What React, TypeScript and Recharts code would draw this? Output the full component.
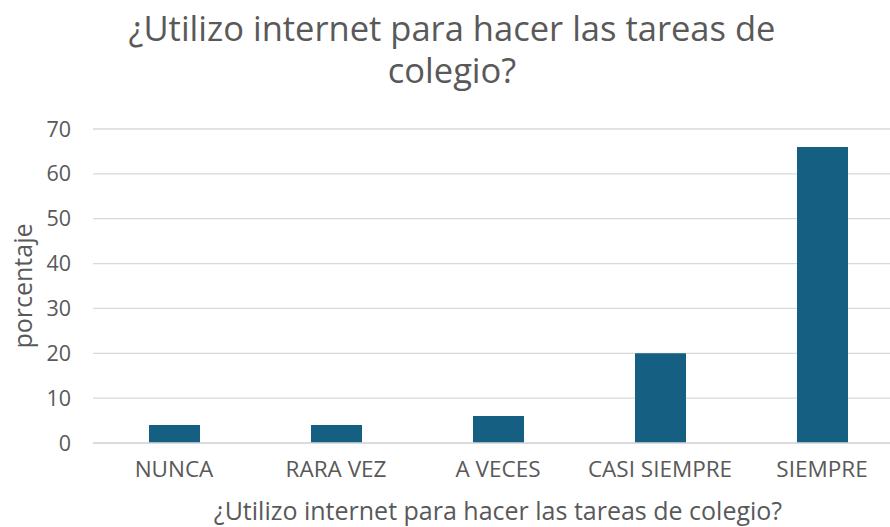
import { BarChart, Bar, XAxis, YAxis, CartesianGrid } from "recharts"

const categories = ["NUNCA", "RARA VEZ", "A VECES", "CASI SIEMPRE", "SIEMPRE"]
const porcentaje = [4, 4, 6, 20, 66]
const yTicks = [0, 10, 20, 30, 40, 50, 60, 70]

const titleLines = ["¿Utilizo internet para hacer las tareas de", "colegio?"]
const xTitle = "¿Utilizo internet para hacer las tareas de colegio?"
const yTitle = "porcentaje"

const FONT = "'Open Sans', 'Liberation Sans', Arial, sans-serif"
const TEXT = "#595959"
const BAR = "#156082"
const GRID = "#D9D9D9"

const data = categories.map((name, i) => ({ name, value: porcentaje[i] }))

export default function App() {
  return (
    <div
      style={{
        position: "fixed",
        top: 0,
        left: 0,
        width: 890,
        height: 527,
        overflow: "hidden",
        background: "#fff",
        fontFamily: FONT,
      }}
    >
      {titleLines.map((l, i) => (
        <div
          key={l}
          style={{
            position: "absolute",
            left: 0,
            width: 904,
            top: 10 + i * 42,
            textAlign: "center",
            color: TEXT,
            fontSize: 34.5,
            lineHeight: "36px",
            whiteSpace: "nowrap",
          }}
        >
          {l}
        </div>
      ))}
      <BarChart width={910} height={527} data={data} margin={{ top: 129, right: 7, left: 0, bottom: 32 }}>
        <CartesianGrid vertical={false} stroke={GRID} strokeWidth={1.3} />
        <XAxis
          dataKey="name"
          height={52}
          axisLine={{ stroke: GRID, strokeWidth: 1.3 }}
          tickLine={false}
          tickMargin={12}
          tick={{ fill: TEXT, fontSize: 22.5, fontFamily: FONT }}
          interval={0}
          label={{ value: xTitle, position: "bottom", offset: 7, fill: TEXT, fontSize: 25, fontFamily: FONT }}
        />
        <YAxis
          width={93}
          domain={[0, 70]}
          ticks={yTicks}
          axisLine={false}
          tickLine={false}
          tickMargin={16}
          tick={{ fill: TEXT, fontSize: 21.5, fontFamily: FONT }}
          label={{
            content: (props: any) => {
              const vb = props.viewBox || {}
              const cy = vb.y + vb.height / 2
              return (
                <text
                  x={22}
                  y={cy}
                  transform={`rotate(-90 22 ${cy})`}
                  textAnchor="middle"
                  dominantBaseline="central"
                  fill={TEXT}
                  fontSize={25}
                  fontFamily={FONT}
                >
                  {yTitle}
                </text>
              )
            },
          }}
        />
        <Bar dataKey="value" fill={BAR} barSize={51} isAnimationActive={false} />
      </BarChart>
    </div>
  )
}
